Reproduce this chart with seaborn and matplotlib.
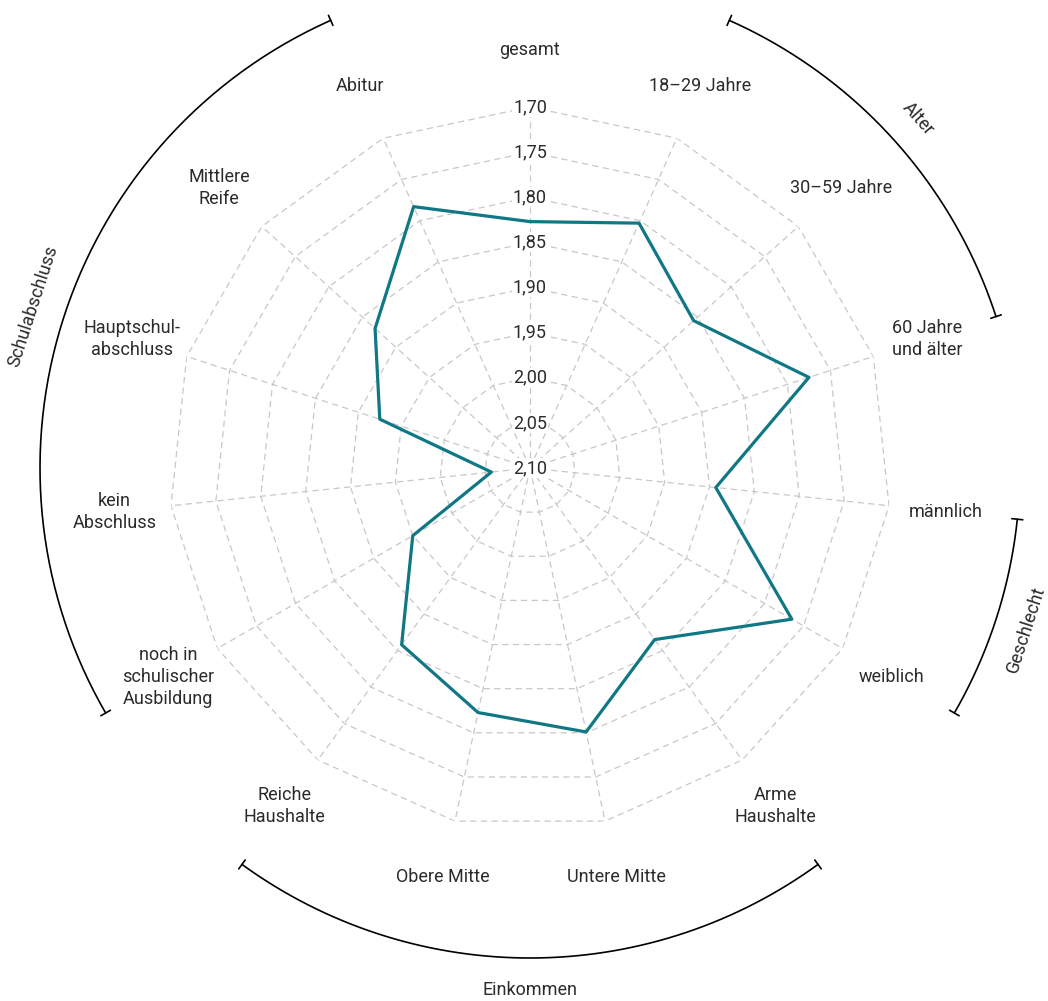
import numpy as np
import pandas as pd
import matplotlib
matplotlib.use("Agg")
import matplotlib.pyplot as plt
import seaborn as sns

# Categories around the web, clockwise from the top
categories = [
    "gesamt", "18–29 Jahre", "30–59 Jahre", "60 Jahre\nund älter",
    "männlich", "weiblich", "Arme\nHaushalte", "Untere Mitte", "Obere Mitte",
    "Reiche\nHaushalte", "noch in\nschulischer\nAusbildung", "kein\nAbschluss",
    "Hauptschul-\nabschluss", "Mittlere\nReife", "Abitur",
]
# Average score per group (lower is better, axis runs inverted)
values = [1.827, 1.803, 1.856, 1.775, 1.893, 1.765, 1.865, 1.801, 1.823,
          1.858, 1.950, 2.057, 1.925, 1.869, 1.783]

tick_values = [2.10, 2.05, 2.00, 1.95, 1.90, 1.85, 1.80, 1.75, 1.70]
tick_labels = ["2,10", "2,05", "2,00", "1,95", "1,90", "1,85", "1,80", "1,75", "1,70"]

groups = ["Alter", "Geschlecht", "Einkommen", "Schulabschluss"]
group_first = [1, 4, 6, 10]
group_last = [3, 5, 9, 14]

sns.set_theme(style="white")
plt.rcParams["font.family"] = ["Roboto", "DejaVu Sans"]

TEXT = "#2b2b2b"
GRID = "#c8c8c8"
LINE = "#0f7884"
FS = 13

r_center, r_outer = 2.10, 1.70
px_per_unit = 902.5  # radial pixels per score unit


def r_at(px):
    return r_center - px / px_per_unit


fig = plt.figure(figsize=(10.48, 10.01), dpi=100)
W, H = 1048, 1001
cx, cy, R = 530, 468, 361
ax = fig.add_axes([(cx - R) / W, (H - cy - R) / H, 2 * R / W, 2 * R / H],
                  projection="polar")
ax.set_theta_zero_location("N")
ax.set_theta_direction(-1)

n = len(categories)
theta = np.arange(n) * 2 * np.pi / n
theta_closed = np.append(theta, 2 * np.pi)

# Dashed polygon rings and spokes
dash = (0, (5, 3.5))
for v in tick_values[1:]:
    ax.plot(theta_closed, [v] * (n + 1), ls=dash, color=GRID, lw=0.9, zorder=1)
for th in theta:
    ax.plot([th, th], [r_center, r_outer], ls=dash, color=GRID, lw=0.9, zorder=1)

# Data polygon
df = pd.DataFrame({"winkel": theta_closed, "wert": values + values[:1]})
sns.lineplot(data=df, x="winkel", y="wert", sort=False, estimator=None,
             color=LINE, lw=2.3, ax=ax, zorder=5)

ax.set_ylim(r_center, r_outer)
ax.set_xticks([])
ax.set_yticks([])
ax.set_xlabel("")
ax.set_ylabel("")
ax.grid(False)
ax.spines["polar"].set_visible(False)
ax.patch.set_alpha(0)

# Radial tick labels along the top spoke
for v, lab in zip(tick_values, tick_labels):
    ax.text(0, v, lab, ha="center", va="center", fontsize=FS, color=TEXT,
            zorder=4, bbox=dict(fc="white", ec="none", pad=0.6))

# Category labels
r_lab = r_at(418)
for th, cat in zip(theta, categories):
    ax.text(th, r_lab, cat, ha="center", va="center", fontsize=FS, color=TEXT,
            multialignment="center", linespacing=1.3, clip_on=False)

# Group brackets with end caps and labels
r_arc = r_at(490)
cap = 5.5 / px_per_unit
r_glab = r_at(522)
step = 2 * np.pi / n
for name, a, b in zip(groups, group_first, group_last):
    t0, t1 = a * step, b * step
    ts = np.linspace(t0, t1, 200)
    ax.plot(ts, [r_arc] * len(ts), color="black", lw=1.2, clip_on=False)
    for t in (t0, t1):
        ax.plot([t, t], [r_arc + cap, r_arc - cap], color="black", lw=1.2,
                clip_on=False)
    tm = (t0 + t1) / 2
    deg = np.degrees(tm)
    rot = 180 - deg if 90 < deg < 270 else -deg
    ax.text(tm, r_glab, name, ha="center", va="center", fontsize=FS,
            color=TEXT, rotation=rot, rotation_mode="anchor", clip_on=False)

fig.savefig("out.png", dpi=100, facecolor="white")
